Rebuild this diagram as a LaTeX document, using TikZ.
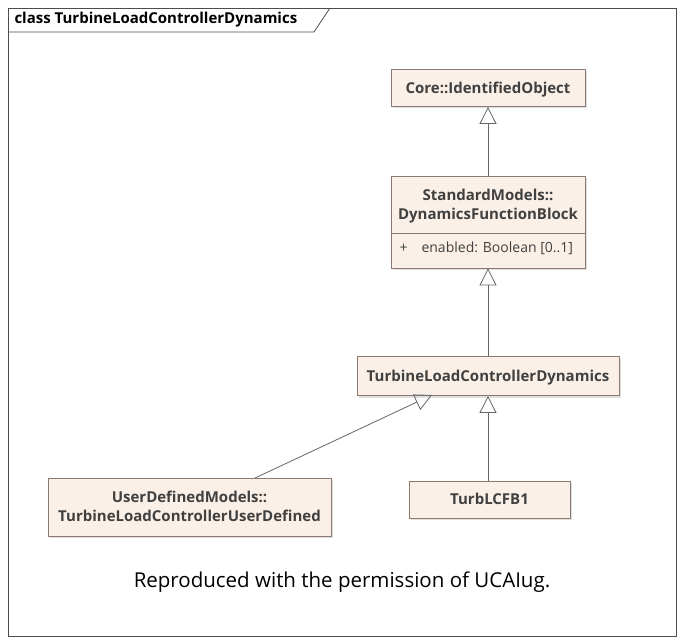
\documentclass[tikz,border=0pt]{standalone}
\usepackage{fontspec}
\setmainfont{Open Sans}
\usetikzlibrary{arrows.meta,shadows}
\definecolor{boxfill}{HTML}{FBF0E7}
\definecolor{boxline}{HTML}{8A7A72}
\tikzset{
  cls/.style={draw=boxline,fill=boxfill,line width=0.8pt,minimum height=37pt,
    font=\fontsize{15}{19}\selectfont\bfseries,text=black!75,align=center,
    text depth=1pt,
    drop shadow={shadow xshift=2pt,shadow yshift=-2pt,fill=black!25}},
  gen/.style={draw=black!60,line width=0.8pt,-{Triangle[open,width=17pt,length=17pt]}}
}
\begin{document}
\begin{tikzpicture}[x=1pt,y=-1pt]
  \useasboundingbox (0,0) rectangle (685,644);
  % frame and title tab
  \draw[black!70,line width=0.8pt] (8,8) rectangle (676,636);
  \draw[black!70,line width=0.8pt] (8,32) -- (314,32) -- (330,8);
  \node[anchor=west,font=\fontsize{15}{17}\selectfont\bfseries] (title) at (11,20) {class TurbineLoadControllerDynamics};
  % classes
  \node[cls,minimum width=194pt] (ident) at (488,88) {Core::IdentifiedObject};
  \node[cls,minimum width=194pt,minimum height=92pt] (dfb) at (488,222) {};
  \node[font=\fontsize{15}{19}\selectfont\bfseries,text=black!75,align=center] (dfbname) at (488,206) {StandardModels::\\DynamicsFunctionBlock};
  \draw[boxline,line width=0.8pt] (391,233) -- (585,233);
  \node[anchor=west,font=\fontsize{14}{16}\selectfont,text=black!75] (dfbattr) at (396,248) {+\hspace{14pt}enabled: Boolean [0..1]};
  \node[cls,minimum width=262pt,minimum height=39pt] (tlcd) at (488,376) {TurbineLoadControllerDynamics};
  \node[cls,minimum width=283pt,minimum height=58pt] (udm) at (189.5,507) {UserDefinedModels::\\TurbineLoadControllerUserDefined};
  \node[cls,minimum width=161pt] (lcfb) at (489.5,499.5) {TurbLCFB1};
  % generalizations
  \draw[gen] (dfb.north) -- (ident.south);
  \draw[gen] (tlcd.north) -- (dfb.south);
  \draw[gen] (lcfb.north -| tlcd.south) -- (tlcd.south);
  \coordinate (udmtop) at (255,478);
  \coordinate (tlcdin) at (432,395);
  \draw[gen] (udmtop) -- (tlcdin);
  % caption
  \node[font=\fontsize{20.5}{24}\selectfont] (caption) at (342,582) {Reproduced with the permission of UCAIug.};
\end{tikzpicture}
\end{document}
